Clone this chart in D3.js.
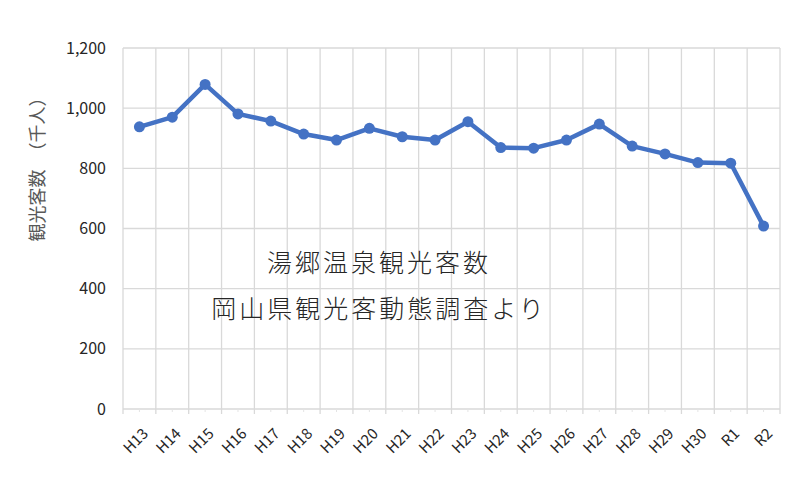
<!DOCTYPE html>
<html><head><meta charset="utf-8">
<script src="https://cdn.jsdelivr.net/npm/d3@7"></script>
<style>body{margin:0;background:#fff;}svg{display:block;}</style>
</head><body>
<svg id="chart" width="805" height="497"></svg>
<script>
const categories = ["H13","H14","H15","H16","H17","H18","H19","H20","H21","H22","H23","H24","H25","H26","H27","H28","H29","H30","R1","R2"];
const visitors = [938, 970, 1079, 981, 957, 914, 894, 933, 905, 894, 955, 869, 867, 894, 947, 874, 848, 819, 817, 608];
const yTicks = [0, 200, 400, 600, 800, 1000, 1200];
const yTitle = "観光客数　（千人）";
const notes = ["湯郷温泉観光客数", "岡山県観光客動態調査より"];

const svg = d3.select("#chart");
const m = {left:123, right:780, top:48, bottom:409};
const x = d3.scaleBand().domain(categories).range([m.left, m.right]).padding(0);
const y = d3.scaleLinear().domain([0,1200]).range([m.bottom, m.top]);
const font = "'Noto Sans CJK JP', 'Noto Sans', sans-serif";

// horizontal gridlines
svg.append("g").selectAll("line").data(yTicks).join("line")
  .attr("x1", m.left).attr("x2", m.right)
  .attr("y1", d=>y(d)).attr("y2", d=>y(d))
  .attr("stroke", "#d9d9d9").attr("stroke-width", 1.3);
// vertical gridlines at category boundaries
const bounds = categories.map(c=>x(c)).concat([m.right]);
svg.append("g").selectAll("line").data(bounds).join("line")
  .attr("x1", d=>d).attr("x2", d=>d)
  .attr("y1", m.top).attr("y2", m.bottom)
  .attr("stroke", "#d9d9d9").attr("stroke-width", 1.3);
// tick marks on x axis
svg.append("g").selectAll("line").data(bounds).join("line")
  .attr("x1", d=>d).attr("x2", d=>d)
  .attr("y1", m.bottom).attr("y2", m.bottom+5)
  .attr("stroke", "#d9d9d9").attr("stroke-width", 1.3);
svg.append("g").selectAll("line").data(categories).join("line")
  .attr("x1", d=>x(d)+x.bandwidth()/2).attr("x2", d=>x(d)+x.bandwidth()/2)
  .attr("y1", m.bottom).attr("y2", m.bottom+3)
  .attr("stroke", "#e4e4e4").attr("stroke-width", 1);

// y labels
svg.append("g").selectAll("text").data(yTicks).join("text")
  .attr("x", 106).attr("y", d=>y(d)).attr("dy", "0.35em")
  .attr("text-anchor", "end").attr("font-family", font).attr("font-size", 16)
  .attr("fill", "#262626").text(d=>d3.format(",")(d));

// x labels
svg.append("g").selectAll("text").data(categories).join("text")
  .attr("transform", d=>`translate(${x(d)+x.bandwidth()/2+6},${m.bottom+22}) rotate(-45)`)
  .attr("text-anchor", "end").attr("dy","0.35em")
  .attr("font-family", font).attr("font-size", 15)
  .attr("fill", "#262626").text(d=>d);

// y title
svg.append("text")
  .attr("transform", "translate(38,165) rotate(-90)")
  .attr("text-anchor", "middle").attr("dy","0.35em")
  .attr("font-family", font).attr("font-size", 18)
  .attr("fill", "#595959").text(yTitle);

// line
const line = d3.line().x(d=>x(d[0])+x.bandwidth()/2).y(d=>y(d[1]));
const pts = categories.map((c,i)=>[c, visitors[i]]);
svg.append("path").datum(pts).attr("d", line)
  .attr("fill","none").attr("stroke","#4472C4").attr("stroke-width",4.5)
  .attr("stroke-linejoin","round");
svg.append("g").selectAll("circle").data(pts).join("circle")
  .attr("cx", d=>x(d[0])+x.bandwidth()/2).attr("cy", d=>y(d[1]))
  .attr("r", 5.5).attr("fill","#4472C4");

// notes
svg.append("g").selectAll("text").data(notes).join("text")
  .attr("x", 379).attr("y", (d,i)=>263 + i*46).attr("dy","0.35em")
  .attr("text-anchor","middle").attr("font-family", font).attr("font-size", 25)
  .attr("font-weight", 300)
  .attr("letter-spacing", 3)
  .attr("fill","#262626").text(d=>d);
</script>
</body></html>
